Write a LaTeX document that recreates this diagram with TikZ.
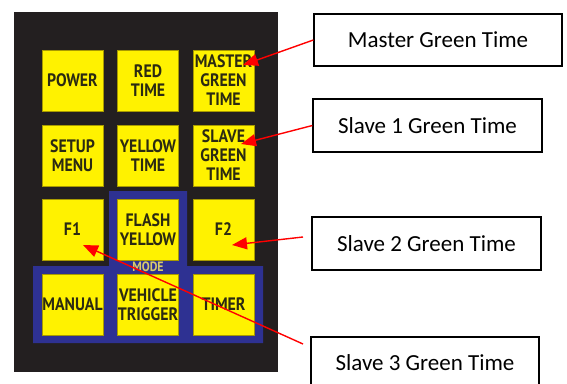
\documentclass[tikz,border=0pt]{standalone}
\usepackage{fontspec}
\setmainfont{Carlito}
\newfontfamily\btnfont[FakeStretch=0.88]{PT Sans}
\usetikzlibrary{arrows.meta}
\definecolor{panel}{HTML}{231F20}
\definecolor{btn}{HTML}{FFF200}
\definecolor{btnedge}{HTML}{A89A00}
\definecolor{modeblue}{HTML}{2E3192}
\definecolor{modetext}{HTML}{D9CB6A}
\definecolor{btntext}{HTML}{2B2A12}
\begin{document}
\begin{tikzpicture}[x=1pt,y=-1pt,
 btnbox/.style={draw=btnedge,line width=0.8pt,fill=btn,minimum width=61pt,minimum height=61pt,inner sep=0pt,align=center,font=\btnfont\bfseries\fontsize{18}{19}\selectfont,text=btntext},
 callout/.style={draw=black,line width=1.3pt,fill=white,minimum height=52pt,inner sep=0pt,font=\fontsize{23}{26}\selectfont},
 redarrow/.style={draw=red,line width=1.4pt,-{Triangle[length=15pt,width=12pt]}}]
\useasboundingbox (0,0) rectangle (567,383);
\clip (0,0) rectangle (567,383);
\fill[white] (0,0) rectangle (567,383);
% panel
\fill[panel] (14,12) rectangle (278,372);
\fill[modeblue] (109,191) -- (187,191) -- (187,266) -- (263,266) -- (263,343) -- (33,343) -- (33,266) -- (109,266) -- cycle;
% buttons
\node[btnbox] (power) at (72.5,80.5) {POWER};
\node[btnbox] (red) at (148,80.5) {RED\\TIME};
\node[btnbox] (mgt) at (223.5,80.5) {MASTER\\GREEN\\TIME};
\node[btnbox] (setup) at (72.5,155.5) {SETUP\\MENU};
\node[btnbox] (yellow) at (148,155.5) {YELLOW\\TIME};
\node[btnbox] (sgt) at (223.5,155.5) {SLAVE\\GREEN\\TIME};
\node[btnbox] (f1) at (72.5,229.5) {F1};
\node[btnbox] (flash) at (148,229.5) {FLASH\\YELLOW};
\node[btnbox] (f2) at (223.5,229.5) {F2};
\node[btnbox] (manual) at (72.5,304.5) {MANUAL};
\node[btnbox] (vehicle) at (148,304.5) {VEHICLE\\TRIGGER};
\node[btnbox] (timer) at (223.5,304.5) {TIMER};
\node[font=\btnfont\bfseries\fontsize{13.5}{14}\selectfont,text=modetext,inner sep=0pt] (mode) at (148,267) {MODE};
% callouts
\node[callout,minimum width=248pt] (b1) at (438,40) {Master Green Time};
\node[callout,minimum width=229pt,minimum height=53pt] (b2) at (427.5,125.5) {Slave 1 Green Time};
\node[callout,minimum width=229pt,minimum height=53pt] (b3) at (426.5,243.5) {Slave 2 Green Time};
\node[callout,minimum width=228pt] (b4) at (425,363) {Slave 3 Green Time};
% arrow ends
\coordinate (t1) at (243,65);
\coordinate (t2) at (241,144);
\coordinate (s3) at (303,237);
\coordinate (t3) at (232,245);
\coordinate (s4) at (303,344);
\coordinate (t4) at (83,245);
\draw[redarrow] (b1.west) -- (t1);
\draw[redarrow] (b2.west) -- (t2);
\draw[redarrow] (s3) -- (t3);
\draw[redarrow] (s4) -- (t4);
\end{tikzpicture}
\end{document}
